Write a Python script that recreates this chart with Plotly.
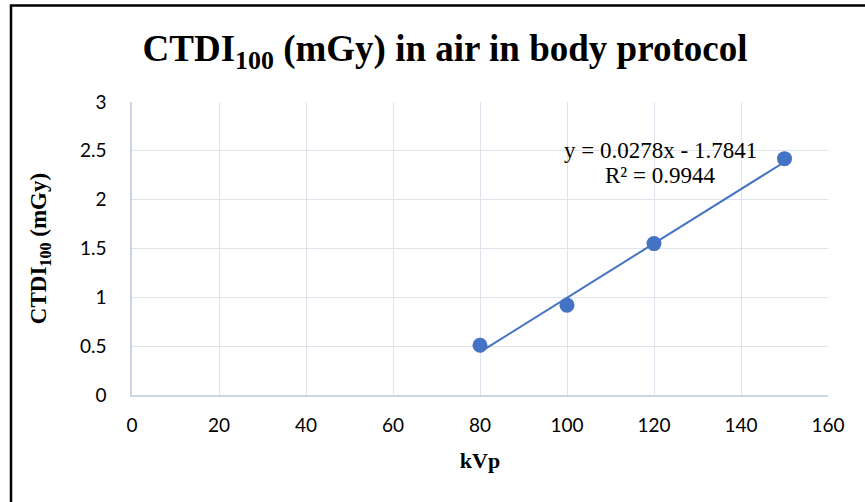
import plotly.graph_objects as go

# Data
kvp = [80, 100, 120, 150]
ctdi = [0.51, 0.92, 1.55, 2.42]
slope = 0.0278
intercept = -1.7841
r_squared = 0.9944
x_ticks = [0, 20, 40, 60, 80, 100, 120, 140, 160]
y_ticks = [0, 0.5, 1, 1.5, 2, 2.5, 3]

W, H = 865, 502
L, R, T, B = 132, 37, 102, 107
pw, ph = W - L - R, H - T - B

def px_x(p):
    return (p - L) / pw

def px_y(p):
    return (H - B - p) / ph

blue = "#4472C4"
grid = "#dfe4ec"
axis_line = "#cdd5e3"

trend_x = [min(kvp), max(kvp)]
trend_y = [slope * x + intercept for x in trend_x]

fig = go.Figure()
fig.add_trace(go.Scatter(x=trend_x, y=trend_y, mode="lines",
                         line=dict(color=blue, width=2), hoverinfo="skip",
                         showlegend=False))
fig.add_trace(go.Scatter(x=kvp, y=ctdi, mode="markers",
                         marker=dict(color=blue, size=15), showlegend=False))

serif = "Liberation Serif, Times New Roman, serif"
sans = "Lato, Carlito, Calibri, sans-serif"

fig.update_layout(
    width=W, height=H,
    margin=dict(l=L, r=R, t=T, b=B),
    paper_bgcolor="white", plot_bgcolor="white",
    title=dict(text="<b>CTDI<sub>100</sub> (mGy) in air in body protocol</b>",
               font=dict(family=serif, size=37, color="black"),
               x=445 / W, xanchor="center", xref="container",
               y=1 - 48 / H, yanchor="middle", yref="container"),
    xaxis=dict(range=[0, 160], tickvals=x_ticks, ticktext=[str(v) for v in x_ticks],
               showgrid=True, gridcolor=grid, gridwidth=1,
               showline=True, linecolor=axis_line, linewidth=1.5,
               zeroline=False, ticks="outside", ticklen=12,
               tickcolor="rgba(0,0,0,0)",
               tickfont=dict(family=sans, size=19, color="#000"),
               title=dict(text="<b>kVp</b>", font=dict(family=serif, size=22, color="black"),
                          standoff=18)),
    yaxis=dict(range=[0, 3], tickvals=y_ticks, ticktext=[str(v) for v in y_ticks],
               showgrid=True, gridcolor=grid, gridwidth=1,
               showline=True, linecolor=axis_line, linewidth=1.5,
               zeroline=False, ticks="outside", ticklen=20,
               tickcolor="rgba(0,0,0,0)",
               tickfont=dict(family=sans, size=19, color="#000"),
               title=dict(text="<b>CTDI<sub>100</sub> (mGy)</b>",
                          font=dict(family=serif, size=23, color="black"),
                          standoff=27)),
    annotations=[
        dict(text=f"y = {slope}x - {abs(intercept)}",
             x=px_x(660), y=px_y(150), xref="paper", yref="paper",
             xanchor="center", yanchor="middle", showarrow=False,
             font=dict(family=serif, size=23, color="black")),
        dict(text=f"R² = {r_squared}",
             x=px_x(660), y=px_y(175), xref="paper", yref="paper",
             xanchor="center", yanchor="middle", showarrow=False,
             font=dict(family=serif, size=23, color="black")),
    ],
    shapes=[dict(type="rect", xref="paper", yref="paper",
                 x0=px_x(11), x1=px_x(880), y0=px_y(520), y1=px_y(5.5),
                 line=dict(color="black", width=2.5), fillcolor="rgba(0,0,0,0)",
                 layer="above")],
)

fig.write_html("out.html", config={"displayModeBar": False},
               post_script="document.body.style.margin='0';document.body.style.overflow='hidden';")
